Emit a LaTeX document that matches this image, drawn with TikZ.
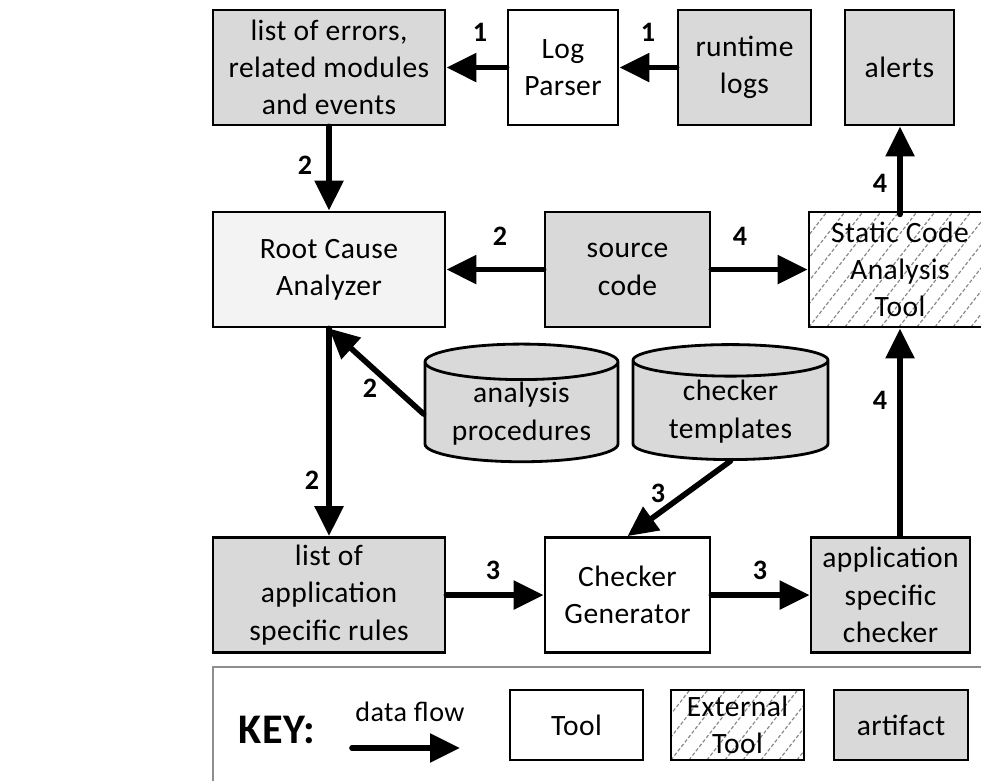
\documentclass[tikz,border=0pt]{standalone}
\usepackage{fontspec}
\setmainfont{Carlito}[LetterSpace=1.5]
\usepackage{tikz}
\usetikzlibrary{positioning}
\usetikzlibrary{shapes.geometric,arrows.meta}

\definecolor{artgray}{HTML}{D9D9D9}
\definecolor{rcagray}{HTML}{F3F3F3}
\definecolor{hatchgray}{HTML}{858585}
\definecolor{keygray}{HTML}{8E8E8E}

\begin{document}
\begin{tikzpicture}
\tikzstyle{artifact}=[rectangle, minimum height=2.875cm, line width=2pt, draw=black, fill=artgray, align=center, inner sep=1pt, font=\fontsize{21}{26.5}\selectfont]
\tikzstyle{tool}=[artifact, fill=white]
\tikzstyle{hatch}=[artifact, fill=white, path picture={
    \foreach \k in {-8,...,12}
      \draw[hatchgray, line width=0.8pt, dash pattern=on 2.5pt off 1.5pt]
        ([xshift=\k*4.5mm]path picture bounding box.south west) -- ++(52:6);}]
\tikzstyle{store}=[cylinder, shape border rotate=90, aspect=0.25, line width=2pt, draw=black, fill=artgray, align=center, inner sep=1pt, font=\fontsize{21}{27}\selectfont]
\tikzstyle{num}=[font=\fontsize{20}{22}\selectfont\bfseries]
\tikzstyle{connect}=[-{Triangle[length=0.75cm,width=0.7cm]}, line width=4pt, line cap=round]
\useasboundingbox (0,0) rectangle (24.525,-19.5);

	% top row
	\node[artifact, minimum width=5.8cm] (errors) at (8.225,-1.6875) {list of errors,\\related modules\\and events};
	\node[tool, minimum width=2.75cm] (parser) at (14.075,-1.6875) {Log\\Parser};
	\node[artifact, minimum width=3.325cm] (logs) at (18.6125,-1.6875) {runtime\\logs};
	\node[artifact, minimum width=2.725cm] (alerts) at (22.4875,-1.6875) {alerts};
	% middle row
	\node[tool, fill=rcagray, minimum width=5.8cm] (rca) at (8.225,-6.7375) {Root Cause\\Analyzer};
	\node[artifact, minimum width=4.125cm] (src) at (15.6875,-6.7375) {source\\code};
	\node[hatch, minimum width=4.55cm] (sca) at (22.5,-6.7375) {Static Code\\Analysis\\Tool};
	% stores
	\node[store, minimum width=4.825cm, minimum height=2.925cm] (procs) at (13.0375,-10.35) {analysis\\procedures};
	\node[store, minimum width=4.875cm, minimum height=2.875cm] (tmpls) at (18.2625,-10.3) {checker\\templates};
	% bottom row
	\node[artifact, minimum width=5.8cm] (rules) at (8.225,-14.875) {list of\\application\\specific rules};
	\node[tool, minimum width=4.125cm] (gen) at (15.6875,-14.875) {Checker\\Generator};
	\node[artifact, minimum width=3.975cm] (chk) at (22.2625,-14.875) {application\\specific\\checker};

	\node[num] (n1a) at (12,-0.8) {1};
	\node[num] (n1b) at (16.2,-0.8) {1};
	\node[num] (n2a) at (7.625,-4.125) {2};
	\node[num] (n2b) at (12.5,-5.9) {2};
	\node[num] (n2c) at (9.25,-9.7) {2};
	\node[num] (n2d) at (7.8,-12) {2};
	\node[num] (n3a) at (16.45,-12.325) {3};
	\node[num] (n3b) at (12.325,-14.25) {3};
	\node[num] (n3c) at (19,-14.25) {3};
	\node[num] (n4a) at (18.5,-5.9) {4};
	\node[num] (n4b) at (22,-4.575) {4};
	\node[num] (n4c) at (22,-10) {4};

	\path[connect]
		(parser) edge (errors)
		(logs) edge (parser)
		(errors) edge (rca)
		(src) edge (rca)
		(src) edge (sca)
		(sca.north |- alerts.south) ++(0,-2.2) edge (sca.north |- alerts.south)
		(procs.west) edge (rca.south)
		(rca) edge (rules)
		(tmpls.south) edge (gen.north)
		(rules) edge (gen)
		(gen) edge (chk)
		(chk.north -| sca.south) edge (sca.south);

	% key
	\draw[keygray, line width=1.5pt] (5.325,-16.675) rectangle (25,-20);
	\node[font=\fontsize{30}{32}\selectfont\bfseries] (keyhead) at (6.925,-18.25) {KEY:};
	\node[font=\fontsize{20}{22}\selectfont] (flowtext) at (10.25,-17.8) {data flow};
	\coordinate (flowa) at (8.8,-18.7);
	\coordinate (flowb) at (11.5,-18.7);
	\draw[connect] (flowa) -- (flowb);
	\node[tool, minimum width=3.325cm, minimum height=1.75cm] (keytool) at (14.4125,-18.125) {Tool};
	\node[hatch, minimum width=3.325cm, minimum height=1.75cm, inner sep=0pt] (keyext) at (18.4375,-18.125) {External\\Tool};
	\node[artifact, minimum width=3.35cm, minimum height=1.75cm] (keyart) at (22.525,-18.125) {artifact};
\end{tikzpicture}
\end{document}
